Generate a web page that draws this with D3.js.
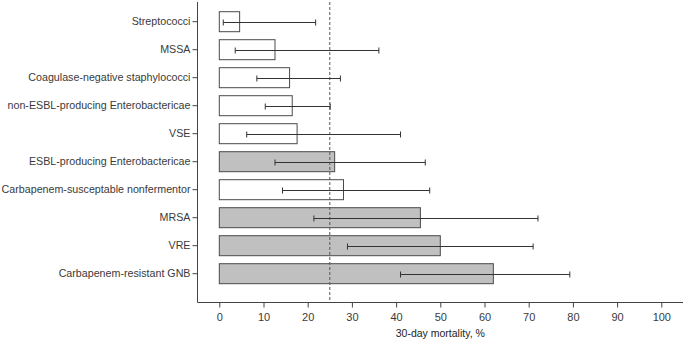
<!DOCTYPE html>
<html><head><meta charset="utf-8">
<script src="https://cdn.jsdelivr.net/npm/d3@7"></script>
<style>body{margin:0;background:#fff}svg{display:block}text{font-family:"Liberation Sans",Arial,sans-serif}</style>
</head><body><svg id="c" width="685" height="340"></svg>
<script>
const categories = ["Streptococci","MSSA","Coagulase-negative staphylococci","non-ESBL-producing Enterobactericae","VSE","ESBL-producing Enterobactericae","Carbapenem-susceptable nonfermentor","MRSA","VRE","Carbapenem-resistant GNB"];
const mortality = [4.6,12.6,15.9,16.5,17.6,26.1,28.1,45.5,50.0,62.0];
const ciLow = [0.9,3.6,8.5,10.4,6.2,12.6,14.3,21.4,29.0,41.0];
const ciHigh = [21.8,36.1,27.4,25.1,41.0,46.6,47.6,72.1,71.0,79.3];
const resistant = [false,false,false,false,false,true,false,true,true,true];
const xTicks = [0,10,20,30,40,50,60,70,80,90,100];
const threshold = 25;
const xTitle = "30-day mortality, %";

const svg = d3.select("#c");
const x = d3.scaleLinear().domain([0,100]).range([219.3,661.3]);
const y = d3.scaleBand().domain(categories).range([7.7,287.7]).paddingInner(0.286).paddingOuter(0.143);
const axisX0 = 197.5, axisY0 = 302.5;

const data = categories.map((c,i)=>({c,v:mortality[i],lo:ciLow[i],hi:ciHigh[i],r:resistant[i]}));

// bars
svg.append("g").selectAll("rect").data(data).join("rect")
  .attr("x", x(0)).attr("y", d=>y(d.c))
  .attr("width", d=>x(d.v)-x(0)).attr("height", y.bandwidth())
  .attr("fill", d=>d.r?"#c0c0c0":"#fff").attr("stroke","#4a4a4a").attr("stroke-width",1);

// dashed reference
svg.append("line").attr("x1",x(threshold)).attr("x2",x(threshold)).attr("y1",2).attr("y2",axisY0)
  .attr("stroke","#555").attr("stroke-width",1).attr("stroke-dasharray","3,2");

// error bars
const eb = svg.append("g").attr("stroke","#333").attr("stroke-width",1);
data.forEach(d=>{
  const cy = Math.round(y(d.c)+y.bandwidth()/2)+0.5;
  eb.append("line").attr("x1",x(d.lo)).attr("x2",x(d.hi)).attr("y1",cy).attr("y2",cy);
  eb.append("line").attr("x1",x(d.lo)).attr("x2",x(d.lo)).attr("y1",cy-3).attr("y2",cy+3);
  eb.append("line").attr("x1",x(d.hi)).attr("x2",x(d.hi)).attr("y1",cy-3).attr("y2",cy+3);
});

// y axis
const ya = svg.append("g").attr("transform",`translate(${axisX0},0)`)
  .call(d3.axisLeft(y).tickSize(5).tickPadding(2));
ya.select(".domain").attr("d",`M0,2V${axisY0}`).attr("stroke","#444");
ya.selectAll(".tick line").attr("stroke","#444");
ya.selectAll("text").attr("font-size",10.7).attr("fill","#3a3a3a").attr("font-family","Liberation Sans, Arial, sans-serif");

// x axis
const xa = svg.append("g").attr("transform",`translate(0,${axisY0})`)
  .call(d3.axisBottom(x).tickValues(xTicks).tickSize(5).tickPadding(6));
xa.select(".domain").attr("d",`M${axisX0},0H683`).attr("stroke","#444");
xa.selectAll(".tick line").attr("stroke","#444");
xa.selectAll("text").attr("font-size",11).attr("fill","#3a3a3a").attr("font-family","Liberation Sans, Arial, sans-serif");

svg.append("text").attr("x",x(50)).attr("y",337).attr("text-anchor","middle")
  .attr("font-size",10.5).attr("fill","#222").text(xTitle);
</script></body></html>
